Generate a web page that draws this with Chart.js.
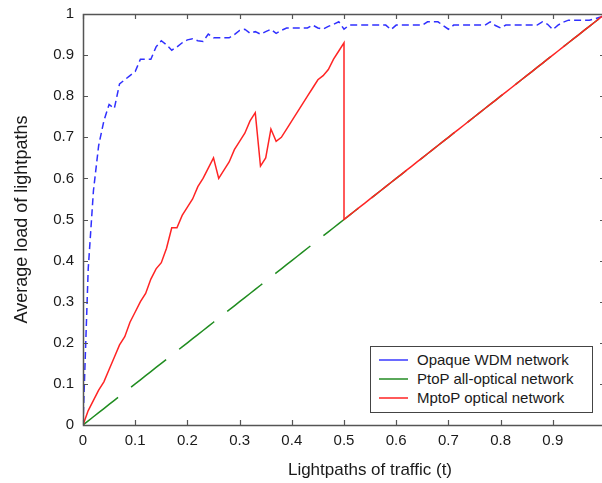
<!DOCTYPE html>
<html>
<head>
<meta charset="utf-8">
<script src="https://cdn.jsdelivr.net/npm/chart.js@4.4.1/dist/chart.umd.min.js"></script>
<style>
html,body{margin:0;padding:0;background:#fff;}
#wrap{position:relative;width:602px;height:483px;overflow:hidden;background:#fff;}
#c{position:absolute;left:0;top:0;}
#xtitle{position:absolute;left:240px;width:260px;top:460px;line-height:20px;text-align:center;
  font-family:"Liberation Sans",Arial,Helvetica,sans-serif;font-size:17px;color:#1a1a1a;}
#legend{position:absolute;left:370px;top:346px;width:221px;height:62px;border:1px solid #444;background:#fff;
  padding-top:3px;box-sizing:content-box;font-family:"Liberation Sans",Arial,Helvetica,sans-serif;font-size:15px;color:#1a1a1a;}
.row{position:relative;height:19px;line-height:19px;}
.swatch{position:absolute;left:8px;top:9px;width:29px;height:2px;}
.lbl{position:absolute;left:46px;top:0;white-space:nowrap;}
</style>
</head>
<body>
<div id="wrap">
  <canvas id="c" width="606" height="483"></canvas>
  <div id="xtitle"></div>
  <div id="legend"></div>
</div>
<script>
// ---- data ----
const xAxisTitle = "Lightpaths of traffic (t)";
const yAxisTitle = "Average load of lightpaths";
const seriesNames = ["Opaque WDM network", "PtoP all-optical network", "MptoP optical network"];
const seriesColors = ["#3030ff", "#1f8c1f", "#ff2424"];
const legendColors = ["#6a6aff", "#5aa85a", "#ff5a5a"];

const xTickValues = [0, 0.1, 0.2, 0.3, 0.4, 0.5, 0.6, 0.7, 0.8, 0.9, 1];
const xTickLabels = ["0", "0.1", "0.2", "0.3", "0.4", "0.5", "0.6", "0.7", "0.8", "0.9", ""];
const yTickValues = [0, 0.1, 0.2, 0.3, 0.4, 0.5, 0.6, 0.7, 0.8, 0.9, 1];
const yTickLabels = ["0", "0.1", "0.2", "0.3", "0.4", "0.5", "0.6", "0.7", "0.8", "0.9", "1"];

const traffic = [
  0.00, 0.01, 0.02, 0.03, 0.04, 0.05, 0.06, 0.07, 0.08, 0.09,
  0.10, 0.11, 0.12, 0.13, 0.14, 0.15, 0.16, 0.17, 0.18, 0.19,
  0.20, 0.21, 0.22, 0.23, 0.24, 0.25, 0.26, 0.27, 0.28, 0.29,
  0.30, 0.31, 0.32, 0.33, 0.34, 0.35, 0.36, 0.37, 0.38, 0.39,
  0.40, 0.41, 0.42, 0.43, 0.44, 0.45, 0.46, 0.47, 0.48, 0.49,
  0.50, 0.51, 0.52, 0.53, 0.54, 0.55, 0.56, 0.57, 0.58, 0.59,
  0.60, 0.61, 0.62, 0.63, 0.64, 0.65, 0.66, 0.67, 0.68, 0.69,
  0.70, 0.71, 0.72, 0.73, 0.74, 0.75, 0.76, 0.77, 0.78, 0.79,
  0.80, 0.81, 0.82, 0.83, 0.84, 0.85, 0.86, 0.87, 0.88, 0.89,
  0.90, 0.91, 0.92, 0.93, 0.94, 0.95, 0.96, 0.97, 0.98, 0.99,
  1.00
];

const opaqueLoad = [
  0.000, 0.380, 0.570, 0.680, 0.740, 0.780, 0.770, 0.830, 0.840, 0.850,
  0.860, 0.890, 0.890, 0.890, 0.920, 0.935, 0.925, 0.912, 0.920, 0.930,
  0.937, 0.940, 0.935, 0.933, 0.951, 0.942, 0.942, 0.942, 0.942, 0.950,
  0.960, 0.963, 0.953, 0.957, 0.951, 0.957, 0.963, 0.953, 0.960, 0.966,
  0.966, 0.966, 0.966, 0.966, 0.973, 0.966, 0.963, 0.970, 0.975, 0.981,
  0.963, 0.973, 0.973, 0.973, 0.973, 0.973, 0.973, 0.973, 0.973, 0.962,
  0.973, 0.973, 0.973, 0.973, 0.973, 0.973, 0.981, 0.981, 0.981, 0.972,
  0.963, 0.973, 0.973, 0.973, 0.973, 0.973, 0.973, 0.973, 0.981, 0.972,
  0.966, 0.973, 0.973, 0.973, 0.973, 0.973, 0.973, 0.973, 0.981, 0.975,
  0.962, 0.973, 0.980, 0.985, 0.985, 0.985, 0.985, 0.985, 0.988, 0.992,
  0.996
];

const ptopLoad = [
  0.00, 0.01, 0.02, 0.03, 0.04, 0.05, 0.06, 0.07, 0.08, 0.09,
  0.10, 0.11, 0.12, 0.13, 0.14, 0.15, 0.16, 0.17, 0.18, 0.19,
  0.20, 0.21, 0.22, 0.23, 0.24, 0.25, 0.26, 0.27, 0.28, 0.29,
  0.30, 0.31, 0.32, 0.33, 0.34, 0.35, 0.36, 0.37, 0.38, 0.39,
  0.40, 0.41, 0.42, 0.43, 0.44, 0.45, 0.46, 0.47, 0.48, 0.49,
  0.50, 0.51, 0.52, 0.53, 0.54, 0.55, 0.56, 0.57, 0.58, 0.59,
  0.60, 0.61, 0.62, 0.63, 0.64, 0.65, 0.66, 0.67, 0.68, 0.69,
  0.70, 0.71, 0.72, 0.73, 0.74, 0.75, 0.76, 0.77, 0.78, 0.79,
  0.80, 0.81, 0.82, 0.83, 0.84, 0.85, 0.86, 0.87, 0.88, 0.89,
  0.90, 0.91, 0.92, 0.93, 0.94, 0.95, 0.96, 0.97, 0.98, 0.99,
  1.00
];

// MptoP: rising part for t = 0 .. 0.50
const mptopRise = [
  0.000, 0.035, 0.060, 0.085, 0.105, 0.135, 0.165, 0.195, 0.215, 0.250,
  0.275, 0.300, 0.320, 0.355, 0.380, 0.395, 0.430, 0.480, 0.480, 0.510,
  0.530, 0.550, 0.580, 0.600, 0.625, 0.650, 0.600, 0.620, 0.640, 0.670,
  0.690, 0.710, 0.740, 0.760, 0.630, 0.650, 0.720, 0.690, 0.700, 0.720,
  0.740, 0.760, 0.780, 0.800, 0.820, 0.840, 0.850, 0.865, 0.890, 0.910,
  0.930
];
// MptoP: after the drop, for t = 0.50 .. 1.00
const mptopFall = [
  0.50, 0.51, 0.52, 0.53, 0.54, 0.55, 0.56, 0.57, 0.58, 0.59,
  0.60, 0.61, 0.62, 0.63, 0.64, 0.65, 0.66, 0.67, 0.68, 0.69,
  0.70, 0.71, 0.72, 0.73, 0.74, 0.75, 0.76, 0.77, 0.78, 0.79,
  0.80, 0.81, 0.82, 0.83, 0.84, 0.85, 0.86, 0.87, 0.88, 0.89,
  0.90, 0.91, 0.92, 0.93, 0.94, 0.95, 0.96, 0.97, 0.98, 0.99,
  1.00
];

// ---- build datasets ----
const opaquePts = traffic.map((t, i) => ({x: t, y: opaqueLoad[i]}));
const ptopPts = traffic.map((t, i) => ({x: t, y: ptopLoad[i]}));
const mptopPts = traffic.slice(0, mptopRise.length).map((t, i) => ({x: t, y: mptopRise[i]}))
  .concat(traffic.slice(mptopRise.length - 1).map((t, i) => ({x: t, y: mptopFall[i]})));

const FONT = '"Liberation Sans", Arial, Helvetica, sans-serif';
const AXIS_COLOR = '#555';

const frameTicks = {
  id: 'frameTicks',
  afterDatasetsDraw(chart) {
    const {ctx, chartArea: a, scales: {x, y}} = chart;
    ctx.save();
    ctx.strokeStyle = AXIS_COLOR;
    ctx.lineWidth = 1.2;
    const L = 5;
    ctx.beginPath();
    xTickValues.forEach(v => {
      const px = Math.round(x.getPixelForValue(v)) + 0.5;
      ctx.moveTo(px, a.bottom); ctx.lineTo(px, a.bottom - L);
      ctx.moveTo(px, a.top); ctx.lineTo(px, a.top + L);
    });
    yTickValues.forEach(v => {
      const py = Math.round(y.getPixelForValue(v)) + 0.5;
      ctx.moveTo(a.left, py); ctx.lineTo(a.left + L, py);
      ctx.moveTo(a.right, py); ctx.lineTo(a.right - L, py);
    });
    ctx.stroke();
    ctx.lineWidth = 1.5;
    ctx.strokeRect(Math.round(a.left) + 0.5, Math.round(a.top) + 0.5,
                   Math.round(a.right - a.left), Math.round(a.bottom - a.top));
    ctx.restore();
  }
};

new Chart(document.getElementById('c'), {
  type: 'scatter',
  data: {
    datasets: [
      {label: seriesNames[0], data: opaquePts, showLine: true, borderColor: seriesColors[0],
       borderWidth: 1.5, borderDash: [7, 4], pointRadius: 0, order: 1, tension: 0},
      {label: seriesNames[1], data: ptopPts, showLine: true, borderColor: seriesColors[1],
       borderWidth: 1.5, borderDash: [44.6, 16.6], pointRadius: 0, order: 2, tension: 0},
      {label: seriesNames[2], data: mptopPts, showLine: true, borderColor: seriesColors[2],
       borderWidth: 1.5, pointRadius: 0, order: 0, tension: 0}
    ]
  },
  options: {
    responsive: false,
    animation: false,
    devicePixelRatio: 1,
    layout: {padding: {top: 14, right: 1, left: 0, bottom: 0}},
    plugins: {legend: {display: false}, tooltip: {enabled: false}},
    scales: {
      x: {
        type: 'linear', min: 0, max: 1,
        afterFit(s) { s.height = 58; s.paddingLeft = 0; s.paddingRight = 0; },
        afterBuildTicks(s) { s.ticks = xTickValues.map(v => ({value: v})); },
        grid: {display: false, drawTicks: false},
        border: {display: false},
        ticks: {
          padding: 7, autoSkip: false, maxRotation: 0, color: '#1a1a1a',
          font: {family: FONT, size: 15},
          callback: (v) => { const i = xTickValues.indexOf(v); return i >= 0 ? xTickLabels[i] : ''; }
        }
      },
      y: {
        type: 'linear', min: 0, max: 1,
        afterFit(s) { s.width = 83; s.paddingTop = 0; s.paddingBottom = 0; },
        afterBuildTicks(s) { s.ticks = yTickValues.map(v => ({value: v})); },
        grid: {display: false, drawTicks: false},
        border: {display: false},
        ticks: {
          padding: 9, autoSkip: false, color: '#1a1a1a',
          font: {family: FONT, size: 15},
          callback: (v) => { const i = yTickValues.indexOf(v); return i >= 0 ? yTickLabels[i] : ''; }
        },
        title: {display: true, text: yAxisTitle, color: '#1a1a1a',
                font: {family: FONT, size: 18}, padding: {top: 11, bottom: 0}}
      }
    }
  },
  plugins: [frameTicks]
});

// ---- x title and legend as real text ----
document.getElementById('xtitle').textContent = xAxisTitle;
const legend = document.getElementById('legend');
seriesNames.forEach((name, i) => {
  const row = document.createElement('div');
  row.className = 'row';
  const sw = document.createElement('div');
  sw.className = 'swatch';
  sw.style.backgroundColor = legendColors[i];
  const lb = document.createElement('div');
  lb.className = 'lbl';
  lb.textContent = name;
  row.appendChild(sw); row.appendChild(lb);
  legend.appendChild(row);
});
</script>
</body>
</html>
